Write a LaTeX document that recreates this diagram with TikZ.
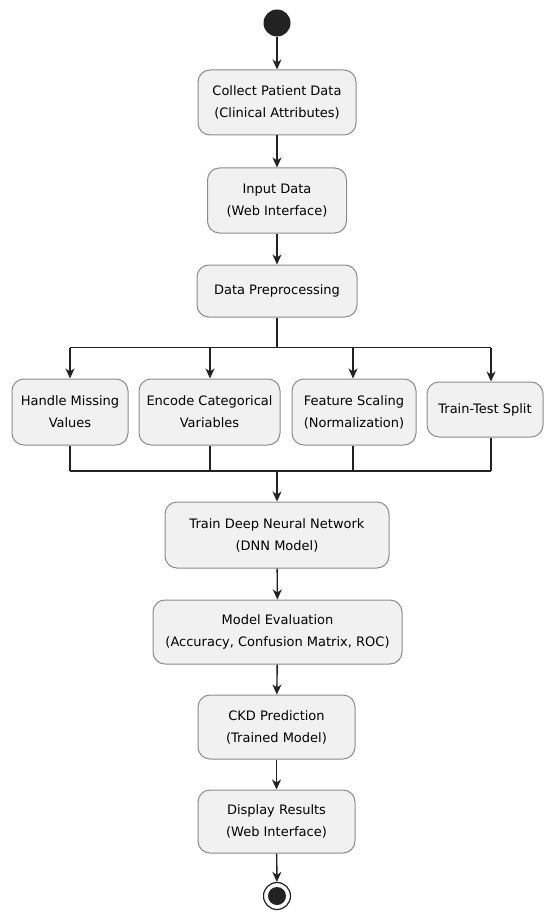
\documentclass[tikz,border=0pt]{standalone}
\usepackage{fontspec}
\setmainfont{DejaVu Sans}
\usepackage{xcolor}
\usepackage{tikz}
\usetikzlibrary{positioning}
\usetikzlibrary{arrows.meta}
\pgfdeclarelayer{nodelayer}
\pgfdeclarelayer{edgelayer}
\pgfsetlayers{nodelayer,edgelayer,main}
\definecolor{boxfill}{HTML}{F1F1F1}
\definecolor{boxline}{HTML}{8C8C8C}
\definecolor{flowline}{HTML}{222222}
\tikzset{
    action/.style = {draw=boxline, fill=boxfill, line width=1pt, rounded corners=12pt, align=center, inner sep=0pt, font=\fontsize{13}{22}\selectfont},
    startdot/.style = {circle, fill=flowline, minimum size=27pt, inner sep=0pt},
    enddot/.style = {circle, draw=flowline, line width=1.2pt, minimum size=27pt, inner sep=0pt, path picture={\fill[flowline] (path picture bounding box.center) circle (9pt);}},
    flow/.style = {draw=flowline, line width=1.4pt},
    arrow/.style = {flow, -{Stealth[length=10pt,width=9pt,inset=3pt]}}
}

\begin{document}
\begin{tikzpicture}[x=1pt, y=-1pt]
    \useasboundingbox (0, 0) rectangle (544, 912);
    \begin{pgfonlayer}{nodelayer}
        \node [style=startdot] (0) at (277, 23) {};
        \node [style=action, minimum width=158pt, minimum height=65pt] (1) at (277, 102.5) {Collect Patient Data\\(Clinical Attributes)};
        \node [style=action, minimum width=139pt, minimum height=65pt] (2) at (277, 200.5) {Input Data\\(Web Interface)};
        \node [style=action, minimum width=160pt, minimum height=52pt] (3) at (277, 291) {Data Preprocessing};
        \node [style=action, minimum width=116pt, minimum height=66pt] (4) at (70, 412) {Handle Missing\\Values};
        \node [style=action, minimum width=141pt, minimum height=66pt] (5) at (209.5, 412) {Encode Categorical\\Variables};
        \node [style=action, minimum width=124pt, minimum height=66pt] (6) at (354, 412) {Feature Scaling\\(Normalization)};
        \node [style=action, minimum width=116pt, minimum height=55pt] (7) at (485, 409.5) {Train-Test Split};
        \node [style=action, minimum width=224pt, minimum height=66pt] (8) at (277, 535) {Train Deep Neural Network\\(DNN Model)};
        \node [style=action, minimum width=249pt, minimum height=64pt] (9) at (277.5, 632) {Model Evaluation\\(Accuracy, Confusion Matrix, ROC)};
        \node [style=action, minimum width=157pt, minimum height=64pt] (10) at (276.5, 727) {CKD Prediction\\(Trained Model)};
        \node [style=action, minimum width=157pt, minimum height=63pt] (11) at (276.5, 821.5) {Display Results\\(Web Interface)};
        \node [style=enddot] (12) at (277, 896) {};
        % fork and join bars
        \coordinate (13) at (277, 347.5);
        \coordinate (14) at (70, 347.5);
        \coordinate (15) at (210, 347.5);
        \coordinate (16) at (353, 347.5);
        \coordinate (17) at (491, 347.5);
        \coordinate (18) at (277, 471);
        \coordinate (19) at (70, 471);
        \coordinate (20) at (210, 471);
        \coordinate (21) at (353, 471);
        \coordinate (22) at (491, 471);
    \end{pgfonlayer}
    \begin{pgfonlayer}{edgelayer}
        \draw [style=arrow] (0) to (1);
        \draw [style=arrow] (1) to (2);
        \draw [style=arrow] (2) to (3);
        \draw [style=flow] (3) to (13);
        \draw [style=flow] (14) to (17);
        \draw [style=arrow] (14) to (14 |- 4.north);
        \draw [style=arrow] (15) to (15 |- 5.north);
        \draw [style=arrow] (16) to (16 |- 6.north);
        \draw [style=arrow] (17) to (17 |- 7.north);
        \draw [style=flow] (19 |- 4.south) to (19);
        \draw [style=flow] (20 |- 5.south) to (20);
        \draw [style=flow] (21 |- 6.south) to (21);
        \draw [style=flow] (22 |- 7.south) to (22);
        \draw [style=flow] (19) to (22);
        \draw [style=arrow] (18) to (8);
        \draw [style=arrow] (8) to (9);
        \draw [style=arrow] (9) to (10);
        \draw [style=arrow] (10) to (11);
        \draw [style=arrow] (11) to (12);
    \end{pgfonlayer}
\end{tikzpicture}
\end{document}
